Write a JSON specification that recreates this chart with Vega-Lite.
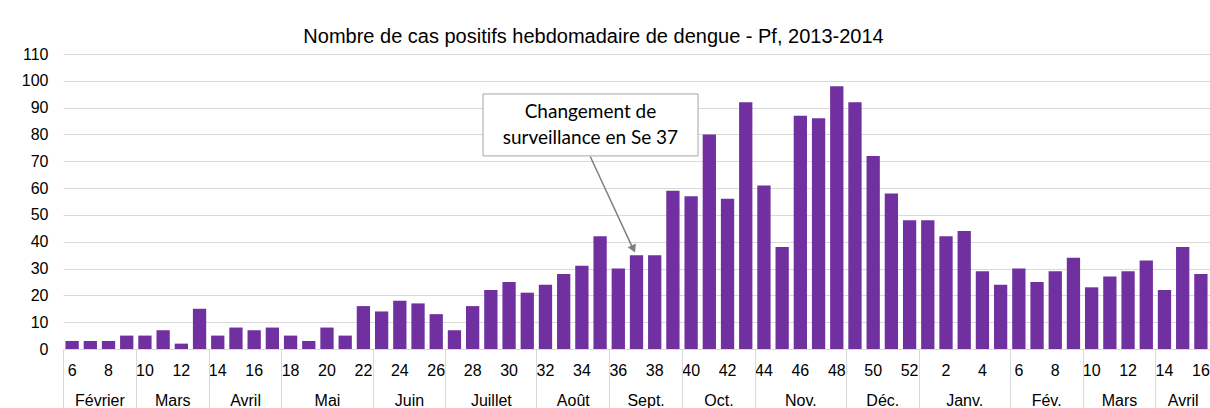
{
  "$schema": "https://vega.github.io/schema/vega-lite/v6.json",
  "width": 1147,
  "height": 295,
  "autosize": {"type": "none"},
  "padding": {"left": 63, "top": 54, "right": 0, "bottom": 59},
  "background": "#ffffff",
  "config": {
    "view": {"stroke": null},
    "font": "Liberation Sans",
    "axis": {"labelFont": "Liberation Sans", "labelColor": "#000000"},
    "axisY": {
      "title": null,
      "values": [0, 10, 20, 30, 40, 50, 60, 70, 80, 90, 100, 110],
      "ticks": false,
      "domain": false,
      "grid": true,
      "gridColor": "#d9d9d9",
      "gridWidth": 1,
      "labelPadding": 15,
      "labelFontSize": 16
    }
  },
  "title": {
    "text": "Nombre de cas positifs hebdomadaire de dengue - Pf, 2013-2014",
    "font": "Liberation Sans",
    "fontSize": 20,
    "fontWeight": "normal",
    "color": "#000000",
    "anchor": "middle",
    "frame": "group",
    "dx": -43,
    "offset": -1
  },
  "datasets": {
    "weeks": [
      {"key": "2013-06", "week": 6, "cases": 3},
      {"key": "2013-07", "week": 7, "cases": 3},
      {"key": "2013-08", "week": 8, "cases": 3},
      {"key": "2013-09", "week": 9, "cases": 5},
      {"key": "2013-10", "week": 10, "cases": 5},
      {"key": "2013-11", "week": 11, "cases": 7},
      {"key": "2013-12", "week": 12, "cases": 2},
      {"key": "2013-13", "week": 13, "cases": 15},
      {"key": "2013-14", "week": 14, "cases": 5},
      {"key": "2013-15", "week": 15, "cases": 8},
      {"key": "2013-16", "week": 16, "cases": 7},
      {"key": "2013-17", "week": 17, "cases": 8},
      {"key": "2013-18", "week": 18, "cases": 5},
      {"key": "2013-19", "week": 19, "cases": 3},
      {"key": "2013-20", "week": 20, "cases": 8},
      {"key": "2013-21", "week": 21, "cases": 5},
      {"key": "2013-22", "week": 22, "cases": 16},
      {"key": "2013-23", "week": 23, "cases": 14},
      {"key": "2013-24", "week": 24, "cases": 18},
      {"key": "2013-25", "week": 25, "cases": 17},
      {"key": "2013-26", "week": 26, "cases": 13},
      {"key": "2013-27", "week": 27, "cases": 7},
      {"key": "2013-28", "week": 28, "cases": 16},
      {"key": "2013-29", "week": 29, "cases": 22},
      {"key": "2013-30", "week": 30, "cases": 25},
      {"key": "2013-31", "week": 31, "cases": 21},
      {"key": "2013-32", "week": 32, "cases": 24},
      {"key": "2013-33", "week": 33, "cases": 28},
      {"key": "2013-34", "week": 34, "cases": 31},
      {"key": "2013-35", "week": 35, "cases": 42},
      {"key": "2013-36", "week": 36, "cases": 30},
      {"key": "2013-37", "week": 37, "cases": 35},
      {"key": "2013-38", "week": 38, "cases": 35},
      {"key": "2013-39", "week": 39, "cases": 59},
      {"key": "2013-40", "week": 40, "cases": 57},
      {"key": "2013-41", "week": 41, "cases": 80},
      {"key": "2013-42", "week": 42, "cases": 56},
      {"key": "2013-43", "week": 43, "cases": 92},
      {"key": "2013-44", "week": 44, "cases": 61},
      {"key": "2013-45", "week": 45, "cases": 38},
      {"key": "2013-46", "week": 46, "cases": 87},
      {"key": "2013-47", "week": 47, "cases": 86},
      {"key": "2013-48", "week": 48, "cases": 98},
      {"key": "2013-49", "week": 49, "cases": 92},
      {"key": "2013-50", "week": 50, "cases": 72},
      {"key": "2013-51", "week": 51, "cases": 58},
      {"key": "2013-52", "week": 52, "cases": 48},
      {"key": "2014-01", "week": 1, "cases": 48},
      {"key": "2014-02", "week": 2, "cases": 42},
      {"key": "2014-03", "week": 3, "cases": 44},
      {"key": "2014-04", "week": 4, "cases": 29},
      {"key": "2014-05", "week": 5, "cases": 24},
      {"key": "2014-06", "week": 6, "cases": 30},
      {"key": "2014-07", "week": 7, "cases": 25},
      {"key": "2014-08", "week": 8, "cases": 29},
      {"key": "2014-09", "week": 9, "cases": 34},
      {"key": "2014-10", "week": 10, "cases": 23},
      {"key": "2014-11", "week": 11, "cases": 27},
      {"key": "2014-12", "week": 12, "cases": 29},
      {"key": "2014-13", "week": 13, "cases": 33},
      {"key": "2014-14", "week": 14, "cases": 22},
      {"key": "2014-15", "week": 15, "cases": 38},
      {"key": "2014-16", "week": 16, "cases": 28}
    ],
    "months": [
      {"month": "Février", "start": 0, "end": 4},
      {"month": "Mars", "start": 4, "end": 8},
      {"month": "Avril", "start": 8, "end": 12},
      {"month": "Mai", "start": 12, "end": 17},
      {"month": "Juin", "start": 17, "end": 21},
      {"month": "Juillet", "start": 21, "end": 26},
      {"month": "Août", "start": 26, "end": 30},
      {"month": "Sept.", "start": 30, "end": 34},
      {"month": "Oct.", "start": 34, "end": 38},
      {"month": "Nov.", "start": 38, "end": 43},
      {"month": "Déc.", "start": 43, "end": 47},
      {"month": "Janv.", "start": 47, "end": 52},
      {"month": "Fév.", "start": 52, "end": 56},
      {"month": "Mars", "start": 56, "end": 60},
      {"month": "Avril", "start": 60, "end": 63}
    ],
    "note": [
      {"x1": 23.07, "x2": 34.88, "y1": 72.0, "y2": 95.1, "xt": 28.97, "yt": 88.5, "ax1": 28.96, "ay1": 71.8, "ax2": 31.3, "ay2": 37.5, "hx": 31.33, "hy": 37.3, "label": ["Changement de", "surveillance en Se 37"]}
    ]
  },
  "layer": [
    {
      "data": {"name": "weeks"},
      "mark": {"type": "bar", "color": "#7030a0"},
      "encoding": {
        "x": {
          "field": "key",
          "type": "ordinal",
          "sort": null,
          "scale": {"paddingInner": 0.27, "paddingOuter": 0.135},
          "axis": {
            "title": null,
            "orient": "bottom",
            "labelAngle": 0,
            "ticks": false,
            "grid": false,
            "domainColor": "#d9d9d9",
            "domainWidth": 1,
            "labelPadding": 13,
            "labelFontSize": 16,
            "labelOverlap": false,
            "labelBound": false,
            "labelExpr": "toNumber(substring(datum.value,5,7)) % 2 == 0 ? toString(toNumber(substring(datum.value,5,7))) : ''"
          }
        },
        "y": {
          "field": "cases",
          "type": "quantitative",
          "title": null,
          "scale": {"domain": [0, 110], "nice": false}
        }
      }
    },
    {
      "data": {"name": "months"},
      "mark": {"type": "rule", "opacity": 0},
      "encoding": {
        "x": {
          "field": "start",
          "type": "quantitative",
          "scale": {"domain": [0, 63], "nice": false, "zero": false},
          "axis": {
            "title": null,
            "orient": "bottom",
            "values": [0, 4, 8, 12, 17, 21, 26, 30, 34, 38, 43, 47, 52, 56, 60, 63],
            "labels": false,
            "domain": false,
            "grid": false,
            "ticks": true,
            "tickSize": 59,
            "tickColor": "#d9d9d9",
            "tickWidth": 1
          }
        }
      }
    },
    {
      "data": {"name": "months"},
      "mark": {"type": "rule", "opacity": 0},
      "encoding": {
        "x": {
          "field": "end",
          "type": "quantitative",
          "scale": {"domain": [0, 63], "nice": false, "zero": false},
          "axis": {
            "title": null,
            "orient": "bottom",
            "values": [2, 6, 10, 14.5, 19, 23.5, 28, 32, 36, 40.5, 45, 49.5, 54, 58, 61.5],
            "ticks": false,
            "domain": false,
            "grid": false,
            "labelPadding": 43,
            "labelFontSize": 16,
            "labelFlush": false,
            "labelOverlap": false,
            "labelBound": false,
            "labelExpr": "datum.value == 2 ? 'Février' : datum.value == 6 ? 'Mars' : datum.value == 10 ? 'Avril' : datum.value == 14.5 ? 'Mai' : datum.value == 19 ? 'Juin' : datum.value == 23.5 ? 'Juillet' : datum.value == 28 ? 'Août' : datum.value == 32 ? 'Sept.' : datum.value == 36 ? 'Oct.' : datum.value == 40.5 ? 'Nov.' : datum.value == 45 ? 'Déc.' : datum.value == 49.5 ? 'Janv.' : datum.value == 54 ? 'Fév.' : datum.value == 58 ? 'Mars' : 'Avril'"
          }
        }
      }
    },
    {
      "data": {"name": "note"},
      "layer": [
        {
          "mark": {"type": "rule", "color": "#7f7f7f", "strokeWidth": 1.5},
          "encoding": {
            "x": {"field": "ax1", "type": "quantitative", "scale": {"domain": [0, 63], "nice": false, "zero": false}, "axis": null},
            "x2": {"field": "ax2"},
            "y": {"field": "ay1", "type": "quantitative", "title": null},
            "y2": {"field": "ay2"}
          }
        },
        {
          "mark": {"type": "point", "shape": "triangle-down", "filled": true, "color": "#7f7f7f", "opacity": 1, "size": 80, "angle": 335},
          "encoding": {
            "x": {"field": "hx", "type": "quantitative", "axis": null},
            "y": {"field": "hy", "type": "quantitative", "title": null}
          }
        },
        {
          "mark": {"type": "rect", "fill": "#ffffff", "stroke": "#a6a6a6", "strokeWidth": 1},
          "encoding": {
            "x": {"field": "x1", "type": "quantitative", "axis": null},
            "x2": {"field": "x2"},
            "y": {"field": "y1", "type": "quantitative", "title": null},
            "y2": {"field": "y2"}
          }
        },
        {
          "mark": {"type": "text", "font": "Lato", "fontSize": 19, "color": "#000000", "align": "center", "baseline": "middle", "lineHeight": 26},
          "encoding": {
            "x": {"field": "xt", "type": "quantitative", "axis": null},
            "y": {"field": "yt", "type": "quantitative", "title": null},
            "text": {"field": "label"}
          }
        }
      ]
    }
  ],
  "resolve": {"scale": {"x": "independent"}}
}
